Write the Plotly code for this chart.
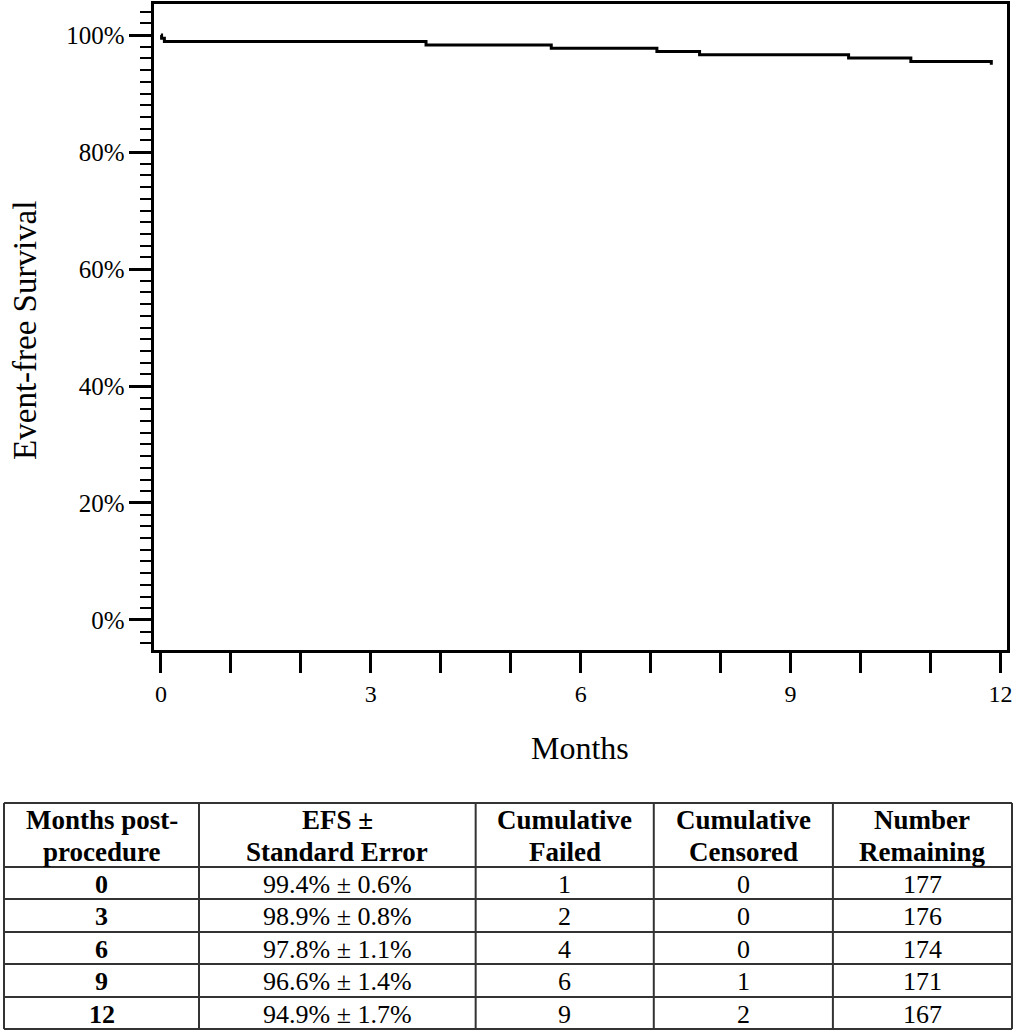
import plotly.graph_objects as go

# Kaplan-Meier step curve (months, EFS %)
event_months = [0, 0.01, 0.05, 3.79, 5.58, 7.09, 7.70, 9.83, 10.72, 11.87]
efs_pct = [100, 99.44, 98.88, 98.31, 97.75, 97.19, 96.63, 96.07, 95.49, 94.93]

# table below the chart
tbl_months = ["0", "3", "6", "9", "12"]
tbl_efs = ["99.4% ± 0.6%", "98.9% ± 0.8%", "97.8% ± 1.1%", "96.6% ± 1.4%", "94.9% ± 1.7%"]
tbl_failed = [1, 2, 4, 6, 9]
tbl_censored = [0, 0, 0, 1, 2]
tbl_remaining = [177, 176, 174, 171, 167]
tbl_headers = [
    ["Months post-", "procedure"],
    ["EFS ±", "Standard Error"],
    ["Cumulative", "Failed"],
    ["Cumulative", "Censored"],
    ["Number", "Remaining"],
]

x_ticks = [0, 3, 6, 9, 12]
y_ticks = [0, 20, 40, 60, 80, 100]

W, H = 1021, 1033
serif = "Liberation Serif"

# table grid in pixels
col_edges = [4, 200, 478, 657, 837, 1017]
row_edges = [803, 867, 899, 932, 964, 997, 1029]

fig = go.Figure()

fig.add_trace(
    go.Scatter(
        x=event_months,
        y=efs_pct,
        mode="lines",
        line=dict(color="black", width=3, shape="hv"),
        showlegend=False,
        hoverinfo="skip",
    )
)

shapes = []
for yy in row_edges:
    shapes.append(
        dict(type="line", xref="paper", yref="paper",
             x0=col_edges[0] / W, x1=col_edges[-1] / W,
             y0=1 - yy / H, y1=1 - yy / H,
             line=dict(color="#333333", width=2))
    )
for xx in col_edges:
    shapes.append(
        dict(type="line", xref="paper", yref="paper",
             x0=xx / W, x1=xx / W,
             y0=1 - row_edges[0] / H, y1=1 - row_edges[-1] / H,
             line=dict(color="#333333", width=2))
    )

annotations = [
    dict(text="Months", xref="paper", yref="paper", x=583 / W, y=1 - 748 / H,
         xanchor="center", yanchor="middle", showarrow=False,
         font=dict(family=serif, size=32)),
    dict(text="Event-free Survival", xref="paper", yref="paper", x=25 / W, y=1 - 330 / H,
         xanchor="center", yanchor="middle", textangle=-90, showarrow=False,
         font=dict(family=serif, size=33)),
]

col_mid = [(col_edges[i] + col_edges[i + 1]) / 2 for i in range(5)]
hdr_top, hdr_bot = row_edges[0], row_edges[1]
for i, (l1, l2) in enumerate(tbl_headers):
    for j, line in enumerate([l1, l2]):
        yy = hdr_top + (hdr_bot - hdr_top) * (0.27 + 0.5 * j)
        annotations.append(
            dict(text="<b>%s</b>" % line, xref="paper", yref="paper",
                 x=col_mid[i] / W, y=1 - yy / H, xanchor="center", yanchor="middle",
                 showarrow=False, font=dict(family=serif, size=27))
        )

columns = [tbl_months, tbl_efs, tbl_failed, tbl_censored, tbl_remaining]
for r in range(len(tbl_months)):
    yy = (row_edges[r + 1] + row_edges[r + 2]) / 2 + 1
    for c, col in enumerate(columns):
        txt = str(col[r])
        if c == 0:
            txt = "<b>%s</b>" % txt
        annotations.append(
            dict(text=txt, xref="paper", yref="paper",
                 x=col_mid[c] / W, y=1 - yy / H, xanchor="center", yanchor="middle",
                 showarrow=False, font=dict(family=serif, size=26))
        )

fig.update_layout(
    width=W,
    height=H,
    margin=dict(l=0, r=0, t=0, b=0),
    paper_bgcolor="white",
    plot_bgcolor="white",
    font=dict(family=serif, color="black"),
    shapes=shapes,
    annotations=annotations,
    xaxis=dict(
        domain=[155 / W, 1012 / W],
        range=[-0.095, 12.095],
        tickvals=x_ticks,
        ticks="outside",
        ticklen=20,
        tickwidth=3,
        tickcolor="black",
        minor=dict(dtick=1, ticks="outside", ticklen=20, tickwidth=3, tickcolor="black"),
        tickfont=dict(family=serif, size=24),
        ticklabelstandoff=0,
        showline=True,
        linecolor="black",
        linewidth=2.5,
        mirror=True,
        showgrid=False,
        zeroline=False,
    ),
    yaxis=dict(
        domain=[1 - 650 / H, 1 - 4 / H],
        range=[-5.13, 105.3],
        tickvals=y_ticks,
        ticktext=["%d%%" % v for v in y_ticks],
        ticks="outside",
        ticklen=22,
        tickwidth=3,
        tickcolor="black",
        minor=dict(dtick=2, ticks="outside", ticklen=11, tickwidth=2, tickcolor="black"),
        tickfont=dict(family=serif, size=25),
        ticklabelstandoff=0,
        showline=True,
        linecolor="black",
        linewidth=2.5,
        mirror=True,
        showgrid=False,
        zeroline=False,
    ),
)

fig.write_html(
    "out.html",
    config={"displayModeBar": False},
    post_script="document.body.style.margin='0';",
)
